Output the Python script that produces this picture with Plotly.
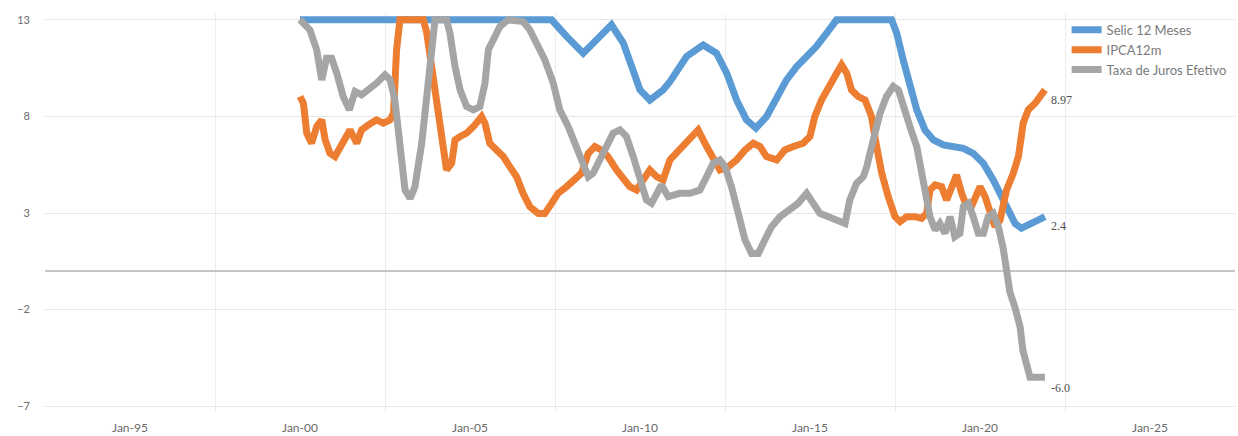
import plotly.graph_objects as go

# ---- data (fractional years) ----
selic_t = [2000.0, 2007.4, 2007.84, 2008.33, 2008.72, 2009.16, 2009.51, 2009.8, 2010.0, 2010.29,
           2010.68, 2010.88, 2011.37, 2011.86, 2012.25, 2012.55, 2012.84, 2013.13, 2013.41, 2013.72,
           2014.02, 2014.31, 2014.61, 2014.9, 2015.19, 2015.49, 2015.78, 2017.4, 2017.55, 2017.74,
           2017.94, 2018.14, 2018.38, 2018.63, 2018.92, 2019.21, 2019.51, 2019.8, 2020.1, 2020.39,
           2020.59, 2020.83, 2021.03, 2021.22, 2021.47, 2021.72, 2021.91]
selic_v = [13, 13, 12.14, 11.27, 11.96, 12.74, 11.79, 10.24, 9.37, 8.85,
           9.37, 9.8, 11.1, 11.7, 11.27, 10.24, 8.85, 7.82, 7.39, 7.99,
           9.03, 9.89, 10.58, 11.1, 11.62, 12.31, 13, 13, 12.31, 10.93,
           9.55, 8.34, 7.3, 6.78, 6.52, 6.44, 6.35, 6.09, 5.57, 4.71,
           4.02, 3.16, 2.46, 2.21, 2.38, 2.64, 2.81]

ipca_t = [2000.0, 2000.1, 2000.2, 2000.34, 2000.49, 2000.64, 2000.74, 2000.88, 2001.03, 2001.18,
          2001.32, 2001.47, 2001.67, 2001.81, 2002.01, 2002.25, 2002.45, 2002.65, 2002.75, 2002.84,
          2002.94, 2003.63, 2003.73, 2003.87, 2004.02, 2004.17, 2004.31, 2004.46, 2004.56, 2004.71,
          2004.9, 2005.1, 2005.34, 2005.44, 2005.58, 2005.78, 2005.98, 2006.17, 2006.37, 2006.56,
          2006.76, 2007.01, 2007.2, 2007.4, 2007.59, 2007.84, 2008.08, 2008.28, 2008.48, 2008.67,
          2008.87, 2009.06, 2009.31, 2009.51, 2009.7, 2009.9, 2010.09, 2010.29, 2010.49, 2010.68,
          2010.88, 2011.17, 2011.47, 2011.71, 2011.96, 2012.15, 2012.35, 2012.6, 2012.84, 2013.09,
          2013.33, 2013.53, 2013.72, 2014.02, 2014.26, 2014.51, 2014.8, 2015.0, 2015.14, 2015.34,
          2015.54, 2015.73, 2015.93, 2016.08, 2016.22, 2016.42, 2016.62, 2016.81, 2016.96, 2017.11,
          2017.3, 2017.5, 2017.65, 2017.84, 2018.09, 2018.28, 2018.43, 2018.53, 2018.68, 2018.87,
          2019.02, 2019.21, 2019.31, 2019.46, 2019.61, 2019.75, 2019.9, 2020.0, 2020.15, 2020.29,
          2020.44, 2020.59, 2020.78, 2020.98, 2021.13, 2021.27, 2021.42, 2021.62, 2021.81, 2021.91]
ipca_v = [9.03, 8.68, 7.13, 6.61, 7.47, 7.82, 6.78, 6.09, 5.92, 6.44,
          6.96, 7.3, 6.61, 7.3, 7.56, 7.82, 7.65, 7.82, 8.16, 11.45,
          13, 13, 12.31, 10.58, 8.85, 6.61, 5.23, 5.57, 6.78, 6.96,
          7.13, 7.47, 7.99, 7.65, 6.61, 6.26, 5.92, 5.4, 4.88, 4.02,
          3.33, 2.98, 2.98, 3.5, 4.02, 4.36, 4.71, 5.06, 6.09, 6.44,
          6.26, 5.92, 5.23, 4.71, 4.36, 4.19, 4.71, 5.23, 4.88, 4.71,
          5.75, 6.26, 6.78, 7.3, 6.44, 5.75, 5.23, 5.4, 5.75, 6.26,
          6.61, 6.44, 5.92, 5.75, 6.26, 6.44, 6.61, 6.96, 7.99, 8.85,
          9.55, 10.06, 10.67, 10.24, 9.37, 9.03, 8.85, 7.99, 6.44, 5.06,
          3.85, 2.81, 2.55, 2.81, 2.81, 2.72, 2.98, 4.19, 4.45, 4.36,
          3.67, 4.71, 4.97, 4.02, 3.33, 3.33, 4.02, 4.36, 3.85, 3.16,
          2.29, 2.64, 4.19, 5.06, 5.92, 7.65, 8.34, 8.68, 9.2, 9.37]

taxa_t = [2000.0, 2000.29, 2000.49, 2000.64, 2000.78, 2000.93, 2001.08, 2001.27, 2001.45, 2001.62,
          2001.81, 2002.01, 2002.25, 2002.5, 2002.65, 2002.79, 2002.94, 2003.09, 2003.24, 2003.38,
          2003.58, 2003.73, 2003.87, 2003.97, 2004.31, 2004.41, 2004.56, 2004.71, 2004.9, 2005.1,
          2005.29, 2005.44, 2005.54, 2005.68, 2005.88, 2006.12, 2006.37, 2006.56, 2006.76, 2006.96,
          2007.2, 2007.45, 2007.64, 2007.89, 2008.13, 2008.33, 2008.48, 2008.62, 2008.82, 2009.02,
          2009.21, 2009.41, 2009.6, 2009.8, 2010.0, 2010.19, 2010.34, 2010.49, 2010.63, 2010.83,
          2011.17, 2011.47, 2011.76, 2011.96, 2012.15, 2012.35, 2012.5, 2012.69, 2012.89, 2013.09,
          2013.28, 2013.48, 2013.67, 2013.87, 2014.12, 2014.36, 2014.65, 2014.9, 2015.1, 2015.29,
          2015.54, 2015.83, 2016.03, 2016.17, 2016.37, 2016.57, 2016.67, 2016.86, 2017.06, 2017.25,
          2017.45, 2017.6, 2017.74, 2017.94, 2018.14, 2018.28, 2018.43, 2018.53, 2018.68, 2018.82,
          2018.97, 2019.12, 2019.26, 2019.41, 2019.51, 2019.66, 2019.8, 2019.95, 2020.1, 2020.24,
          2020.39, 2020.54, 2020.68, 2020.79, 2020.88, 2021.03, 2021.18, 2021.26, 2021.38, 2021.47,
          2021.91]
taxa_v = [13, 12.48, 11.45, 9.89, 11.01, 11.01, 10.24, 9.03, 8.34, 9.29,
          9.11, 9.37, 9.72, 10.15, 9.89, 8.85, 6.26, 4.19, 3.76, 4.36,
          6.61, 8.85, 11.45, 13, 13, 12.31, 10.58, 9.37, 8.51, 8.34,
          8.51, 9.72, 11.45, 11.96, 12.65, 13, 13, 12.91, 12.48, 11.79,
          10.93, 9.72, 8.34, 7.47, 6.44, 5.57, 4.88, 5.06, 5.75, 6.44,
          7.13, 7.3, 6.96, 5.92, 4.71, 3.67, 3.5, 4.02, 4.45, 3.85,
          4.02, 4.02, 4.19, 4.88, 5.57, 5.75, 5.4, 4.36, 2.98, 1.6,
          0.91, 0.91, 1.6, 2.29, 2.81, 3.16, 3.5, 4.02, 3.5, 2.98,
          2.81, 2.64, 2.46, 3.67, 4.54, 4.88, 5.4, 6.78, 8.16, 9.03,
          9.55, 9.37, 8.51, 7.47, 6.44, 5.23, 4.02, 2.81, 2.12, 2.46,
          1.95, 2.81, 1.77, 1.95, 3.33, 3.5, 2.81, 1.95, 1.95, 2.81,
          2.98, 2.29, 1.2, -0.1, -1.1, -1.9, -2.9, -4.1, -5.1, -5.5,
          -5.5]

series_names = ["Selic 12 Meses", "IPCA12m", "Taxa de Juros Efetivo"]
series_colors = ["#5b9bd5", "#ed7d31", "#a5a5a5"]
end_labels = ["2.4", "8.97", "-6.0"]
end_label_shift = [-9, -10, -11]

tick_years = [1995, 2000, 2005, 2010, 2015, 2020, 2025]
tick_text = ["Jan-95", "Jan-00", "Jan-05", "Jan-10", "Jan-15", "Jan-20", "Jan-25"]
y_ticks = [-7, -2, 3, 8, 13]

fig = go.Figure()
for name, t, v, c in zip(series_names, [selic_t, ipca_t, taxa_t],
                         [selic_v, ipca_v, taxa_v], series_colors):
    fig.add_trace(go.Scatter(x=t, y=v, mode="lines", name=name,
                             line=dict(color=c, width=7)))

for t, v, lab, sh in zip([selic_t, ipca_t, taxa_t], [selic_v, ipca_v, taxa_v],
                         end_labels, end_label_shift):
    fig.add_annotation(x=t[-1], y=v[-1], text=lab, showarrow=False,
                       xanchor="left", yanchor="middle", xshift=4, yshift=sh,
                       font=dict(family="Liberation Serif", size=12, color="#505050"))

fig.update_layout(
    width=1238, height=436,
    margin=dict(l=45, r=3, t=14, b=24),
    paper_bgcolor="white", plot_bgcolor="white",
    font=dict(family="Lato", size=11, color="#595959"),
    showlegend=True,
    legend=dict(x=0.8585, y=0.998, xanchor="left", yanchor="top",
                bgcolor="rgba(0,0,0,0)", font=dict(size=13, color="#7a7a7a"),
                tracegroupgap=0),
    xaxis=dict(range=[1992.5, 2027.5], tickmode="array", tickvals=tick_years,
               ticktext=tick_text, showgrid=False, zeroline=False, showline=False,
               automargin=False,
               ticks="", ticklabelstandoff=7, tickfont=dict(size=12, color="#6a6a6a"),
               minor=dict(tick0=1997.5, dtick=5, showgrid=True,
                          gridcolor="#ececec", gridwidth=1)),
    yaxis=dict(range=[-7.3, 13.3], tickmode="array", tickvals=y_ticks,
               showgrid=True, gridcolor="#e6e6e6", gridwidth=1,
               zeroline=True, zerolinecolor="#c6c6c6", zerolinewidth=2,
               showline=False, ticks="", ticklabelstandoff=14, automargin=False,
               tickfont=dict(size=11, color="#6a6a6a")),
)

fig.write_html("out.html")
